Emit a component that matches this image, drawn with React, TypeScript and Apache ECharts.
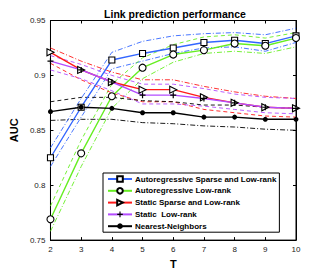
import React, { useEffect, useRef } from "react";
import * as echarts from "echarts";

const T = [2, 3, 4, 5, 6, 7, 8, 9, 10];

const arSparseLowRank = [0.825, 0.871, 0.914, 0.92, 0.925, 0.93, 0.932, 0.929, 0.936];
const arSparseUpper = [0.834, 0.879, 0.921, 0.931, 0.936, 0.938, 0.939, 0.937, 0.943];
const arSparseLower = [0.817, 0.862, 0.906, 0.913, 0.92, 0.925, 0.926, 0.922, 0.93];

const arLowRank = [0.769, 0.829, 0.881, 0.907, 0.919, 0.923, 0.929, 0.927, 0.934];
const arLowUpper = [0.781, 0.841, 0.892, 0.916, 0.928, 0.935, 0.937, 0.934, 0.939];
const arLowLower = [0.758, 0.817, 0.87, 0.897, 0.912, 0.92, 0.922, 0.92, 0.926];

const staticSparseLowRank = [0.921, 0.905, 0.894, 0.887, 0.887, 0.88, 0.875, 0.871, 0.87];
const staticSparseUpper = [0.925, 0.913, 0.903, 0.896, 0.896, 0.89, 0.885, 0.881, 0.879];
const staticSparseLower = [0.911, 0.896, 0.884, 0.876, 0.876, 0.869, 0.866, 0.863, 0.862];

const staticLowRank = [0.913, 0.905, 0.894, 0.882, 0.882, 0.879, 0.875, 0.871, 0.87];
const staticLowUpper = [0.918, 0.91, 0.9, 0.892, 0.892, 0.888, 0.883, 0.88, 0.879];
const staticLowLower = [0.905, 0.897, 0.886, 0.874, 0.874, 0.872, 0.869, 0.866, 0.865];

const nearestNeighbors = [0.867, 0.871, 0.87, 0.866, 0.866, 0.862, 0.862, 0.86, 0.86];
const nnUpper = [0.876, 0.88, 0.88, 0.877, 0.876, 0.873, 0.873, 0.871, 0.87];
const nnLower = [0.859, 0.86, 0.86, 0.857, 0.856, 0.854, 0.853, 0.851, 0.85];

const names = [
  "Autoregressive Sparse and Low-rank",
  "Autoregressive Low-rank",
  "Static Sparse and Low-rank",
  "Static  Low-rank",
  "Nearest-Neighbors",
];

const BLUE = "#3366ff";
const GREEN = "#66ee22";
const RED = "#ff1a1a";
const MAGENTA = "#b44cff";
const BLACK = "#000000";

const DASH = [4, 3];
const DASHDOT = [5, 2, 1, 2];

const pts = (ys: number[]) => T.map((t, i) => [t, ys[i]]);

function band(ys: number[], color: string, type: number[]) {
  return {
    type: "line",
    data: pts(ys),
    symbol: "none",
    silent: true,
    lineStyle: { color, width: 0.9, type },
    z: 1,
  };
}

function main(name: string, ys: number[], color: string, symbol: string, size: number, fill: string) {
  return {
    name,
    type: "line",
    data: pts(ys),
    symbol,
    symbolSize: size,
    showSymbol: true,
    lineStyle: { color, width: 1.4 },
    itemStyle: { color: fill, borderColor: BLACK, borderWidth: 1.1 },
    z: 3,
  };
}

const TRI = "path://M0,0 L10,6 L0,12 Z";
const PLUS = "path://M4,0 L6,0 L6,4 L10,4 L10,6 L6,6 L6,10 L4,10 L4,6 L0,6 L0,4 L4,4 Z";

export default function App() {
  const ref = useRef<HTMLDivElement>(null);
  useEffect(() => {
    if (!ref.current) return;
    const chart = echarts.init(ref.current, null, { renderer: "svg" });
    const font = "Liberation Sans, Arial, sans-serif";
    chart.setOption({
      animation: false,
      backgroundColor: "#ffffff",
      title: {
        text: "Link prediction performance",
        left: 170,
        textAlign: "center",
        top: 3,
        textStyle: { fontFamily: font, fontSize: 10.5, fontWeight: "bold", color: "#000" },
      },
      grid: { left: 43, right: 31, top: 20.5, bottom: 30, show: true, borderColor: "#000", borderWidth: 1 },
      legend: {
        data: names,
        orient: "vertical",
        left: 103,
        top: 173,
        itemWidth: 24,
        itemHeight: 7,
        itemGap: 3.8,
        padding: [2, 3, 2, 4],
        backgroundColor: "#fff",
        borderColor: "#000",
        borderWidth: 1,
        textStyle: { fontFamily: font, fontSize: 8, fontWeight: "bold", color: "#000", padding: [0, 0, 0, -2] },
      },
      xAxis: [
        {
          type: "value",
          min: 2,
          max: 10,
          interval: 1,
          name: "T",
          nameLocation: "middle",
          nameGap: 15,
          nameTextStyle: { fontFamily: font, fontSize: 11, fontWeight: "bold", color: "#000" },
          axisLine: { lineStyle: { color: "#000" } },
          axisTick: { inside: true, length: 3, lineStyle: { color: "#000" } },
          axisLabel: { fontFamily: font, fontSize: 8, color: "#222", margin: 5 },
          splitLine: { show: false },
        },
        {
          type: "value",
          position: "top",
          min: 2,
          max: 10,
          interval: 1,
          axisLine: { lineStyle: { color: "#000" } },
          axisTick: { inside: true, length: 3, lineStyle: { color: "#000" } },
          axisLabel: { show: false },
          splitLine: { show: false },
        },
      ],
      yAxis: [
        {
          type: "value",
          min: 0.75,
          max: 0.95,
          interval: 0.05,
          name: "AUC",
          nameLocation: "middle",
          nameGap: 28,
          nameTextStyle: { fontFamily: font, fontSize: 11, fontWeight: "bold", color: "#000" },
          axisLine: { show: true, lineStyle: { color: "#000" } },
          axisTick: { show: true, inside: true, length: 3, lineStyle: { color: "#000" } },
          axisLabel: { fontFamily: font, fontSize: 8, color: "#222", margin: 5 },
          splitLine: { show: false },
        },
        {
          type: "value",
          position: "right",
          min: 0.75,
          max: 0.95,
          interval: 0.05,
          axisLine: { show: true, lineStyle: { color: "#000" } },
          axisTick: { show: true, inside: true, length: 3, lineStyle: { color: "#000" } },
          axisLabel: { show: false },
          splitLine: { show: false },
        },
      ],
      series: [
        band(arSparseUpper, BLUE, DASHDOT),
        band(arSparseLower, BLUE, DASHDOT),
        band(arLowUpper, GREEN, DASH),
        band(arLowLower, GREEN, DASHDOT),
        band(staticSparseUpper, RED, DASHDOT),
        band(staticSparseLower, RED, DASH),
        band(staticLowUpper, MAGENTA, DASH),
        band(staticLowLower, MAGENTA, DASH),
        band(nnUpper, BLACK, DASH),
        band(nnLower, BLACK, DASHDOT),
        main(names[0], arSparseLowRank, BLUE, "rect", 6, "#fff"),
        main(names[1], arLowRank, GREEN, "circle", 7, "#fff"),
        main(names[2], staticSparseLowRank, RED, TRI, 7, "#fff"),
        {
          ...main(names[3], staticLowRank, MAGENTA, PLUS, 6, BLACK),
          itemStyle: { color: BLACK, borderWidth: 0 },
        },
        {
          ...main(names[4], nearestNeighbors, BLACK, "circle", 5, BLACK),
          itemStyle: { color: BLACK, borderWidth: 0 },
        },
      ],
    });
    return () => chart.dispose();
  }, []);
  return (
    <div
      ref={ref}
      style={{ position: "fixed", left: 0, top: 0, width: 327, height: 274 }}
    />
  );
}
